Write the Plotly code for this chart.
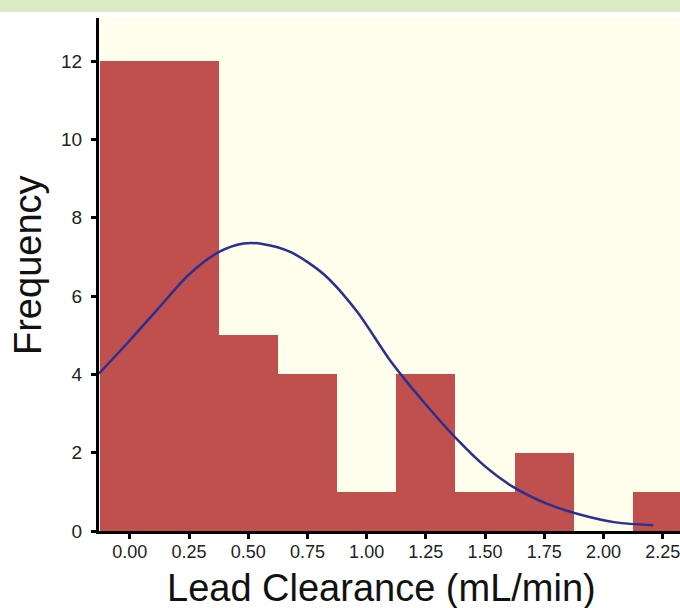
import plotly.graph_objects as go

# Histogram bins (left edge, right edge) and counts
bin_left = [-0.125, 0.125, 0.375, 0.625, 0.875, 1.125, 1.375, 1.625, 1.875, 2.125]
bin_right = [0.125, 0.375, 0.625, 0.875, 1.125, 1.375, 1.625, 1.875, 2.125, 2.375]
counts = [12, 12, 5, 4, 1, 4, 1, 2, 0, 1]

# Fitted curve
curve_x = [-0.13, -0.01, 0.12, 0.25, 0.375, 0.48, 0.56, 0.68, 0.82, 0.96,
           1.10, 1.24, 1.38, 1.50, 1.62, 1.76, 1.90, 2.05, 2.21]
curve_y = [4.02, 4.80, 5.68, 6.55, 7.12, 7.34, 7.33, 7.12, 6.55, 5.60,
           4.35, 3.30, 2.35, 1.65, 1.12, 0.70, 0.42, 0.22, 0.15]

x_ticks = [0.00, 0.25, 0.50, 0.75, 1.00, 1.25, 1.50, 1.75, 2.00, 2.25]
y_ticks = [0, 2, 4, 6, 8, 10, 12]

x_title = "Lead Clearance (mL/min)"
y_title = "Frequency"

FONT = "Liberation Sans, Arial, Helvetica, sans-serif"

centers = [(a + b) / 2 for a, b in zip(bin_left, bin_right)]
widths = [b - a for a, b in zip(bin_left, bin_right)]

fig = go.Figure()
fig.add_trace(go.Bar(
    x=centers, y=counts, width=widths,
    marker=dict(color="rgb(192,80,78)", line=dict(width=0)),
    showlegend=False, hoverinfo="skip",
))
fig.add_trace(go.Scatter(
    x=curve_x, y=curve_y, mode="lines",
    line=dict(color="rgb(40,48,145)", width=2.5, shape="spline", smoothing=0.8),
    showlegend=False, hoverinfo="skip",
))

L, R, T, B = 99, 0, 18, 77
W, H = 680, 608
ph = H - T - B
pw = W - L - R

def px_x(p):
    return (p - L) / pw

def px_y(p):
    return (H - B - p) / ph

fig.update_layout(
    width=W, height=H,
    margin=dict(l=L, r=R, t=T, b=B, pad=0),
    paper_bgcolor="white",
    plot_bgcolor="rgb(255,253,235)",
    bargap=0,
    font=dict(family=FONT, color="#111"),
    shapes=[dict(type="rect", xref="paper", yref="paper",
                 x0=px_x(0), x1=1.0,
                 y0=px_y(12), y1=px_y(-2),
                 fillcolor="rgb(218,234,196)", line=dict(width=0), layer="above")],
    annotations=[
        dict(text=x_title, xref="paper", yref="paper", x=px_x(381), y=px_y(588),
             xanchor="center", yanchor="middle", showarrow=False,
             font=dict(size=38, family=FONT, color="#111")),
        dict(text=y_title, xref="paper", yref="paper", x=px_x(28), y=px_y(265),
             xanchor="center", yanchor="middle", showarrow=False, textangle=-90,
             font=dict(size=38, family=FONT, color="#111")),
    ],
)

fig.update_xaxes(
    range=[-0.13, 2.323],
    tickvals=x_ticks,
    ticktext=[f"{v:.2f}" for v in x_ticks],
    showgrid=False, zeroline=False,
    showline=True, linecolor="black", linewidth=3,
    ticks="outside", ticklen=5, tickwidth=3, tickcolor="black",
    tickfont=dict(size=18, family=FONT, color="#222"),
    ticklabelstandoff=-3,
    ticklabeloverflow="allow",
)
fig.update_yaxes(
    range=[0, 13.1],
    tickvals=y_ticks,
    showgrid=False, zeroline=False,
    showline=True, linecolor="black", linewidth=3,
    ticks="outside", ticklen=5, tickwidth=3, tickcolor="black",
    tickfont=dict(size=19, family=FONT, color="#222"),
    ticklabelstandoff=5,
)

fig.write_html("out.html", config={"displayModeBar": False},
               post_script="document.body.style.margin='0';document.body.style.padding='0';")
